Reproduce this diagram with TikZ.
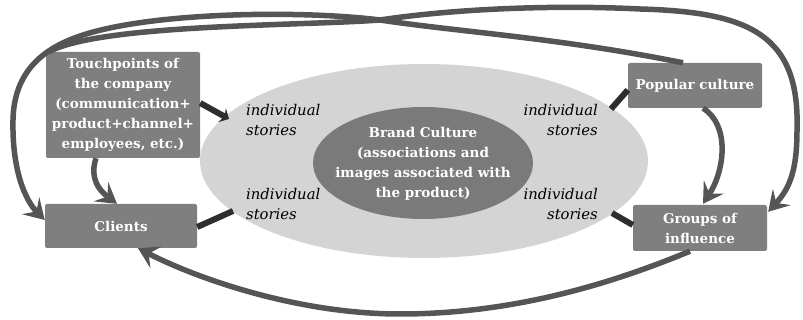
\documentclass[tikz,border=0pt]{standalone}
\usepackage{fontspec}
\setmainfont{DejaVu Serif}
\usetikzlibrary{arrows.meta,calc,shapes.geometric}
\definecolor{boxgray}{HTML}{7F7F7F}
\definecolor{ellout}{HTML}{D4D4D4}
\definecolor{ellin}{HTML}{7A7A7A}
\definecolor{curvegray}{HTML}{555555}
\definecolor{darklink}{HTML}{2E2E2E}
\newcommand\bxfont{\bfseries\fontsize{13.5}{20}\selectfont}
\newcommand\stfont{\itshape\fontsize{14.8}{20}\selectfont}
\begin{document}
\begin{tikzpicture}[x=1pt,y=1pt,
  box/.style={rectangle, rounded corners=2pt, fill=boxgray, text=white, font=\bxfont, align=center, inner sep=0pt},
  loopline/.style={draw=curvegray, line width=5.5pt, -{Stealth[length=20pt,width=24pt,inset=8pt]}},
  linkline/.style={draw=darklink, line width=6pt},
  story/.style={font=\stfont, inner sep=0pt, text=black}
]
\useasboundingbox (0,0) rectangle (803,320);
% ellipses
\node[ellipse, fill=ellout, minimum width=448pt, minimum height=194pt, inner sep=0pt] (outer) at (424,159) {};
\node[ellipse, fill=ellin, minimum width=220pt, minimum height=112pt, inner sep=0pt] (core) at (423,157) {};
\node[font=\bxfont, text=white, align=center, inner sep=0pt] (brand) at (423,156) {Brand Culture\\(associations and\\images associated with\\the product)};
% story labels
\node[story, anchor=west, align=left] (s1) at (246,200) {individual\\stories};
\node[story, anchor=east, align=right] (s2) at (598,200) {individual\\stories};
\node[story, anchor=west, align=left] (s3) at (246,116) {individual\\stories};
\node[story, anchor=east, align=right] (s4) at (598,116) {individual\\stories};
% boxes
\node[box, minimum width=154pt, minimum height=106pt] (tp) at (123,215) {Touchpoints of\\the company\\(communication+\\product+channel+\\employees, etc.)};
\node[box, minimum width=152pt, minimum height=44pt] (cl) at (121,94) {Clients};
\node[box, minimum width=134pt, minimum height=45pt] (pop) at (695,234.5) {Popular culture};
\node[box, minimum width=134pt, minimum height=46pt] (gr) at (700,92) {Groups of\\influence};
% short links
\draw[linkline, -{Stealth[length=8pt,width=16pt,inset=3pt]}] (tp.east |- 0,217) -- (229,201);
\draw[linkline] (pop.west |- 0,230) -- (611,211);
\draw[linkline] (cl.east |- 0,93) -- (233,109);
\draw[linkline] (gr.west |- 0,95) -- (612,107);
% curved arrows
\draw[loopline] ($(tp.south)+(-27,0)$) .. controls (92,150) and (92,135) .. ($(cl.north)+(-4,0)$);
\draw[loopline] ($(pop.south)+(8,0)$) .. controls (730,195) and (725,150) .. ($(gr.north)+(3,1)$);
\draw[loopline] ($(pop.north)+(-12,0)$) .. controls (560,282) and (460,288) .. (380,300)
   .. controls (300,310) and (150,308) .. (80,284)
   .. controls (45,272) and (14,250) .. (13,200)
   .. controls (12,150) and (25,120) .. ($(cl.west)+(0,6)$);
\draw[loopline] ($(tp.north west)+(3,0)$) .. controls (100,296) and (300,294) .. (380,300)
   .. controls (460,312) and (560,315) .. (640,311)
   .. controls (750,308) and (800,285) .. (797,190)
   .. controls (797,150) and (790,132) .. ($(gr.north east)+(1,-7)$);
\draw[loopline] ($(gr.south)+(-10,0)$) .. controls (620,40) and (520,6) .. (400,6)
   .. controls (300,6) and (200,40) .. ($(cl.south)+(17,0)$);
\end{tikzpicture}
\end{document}
